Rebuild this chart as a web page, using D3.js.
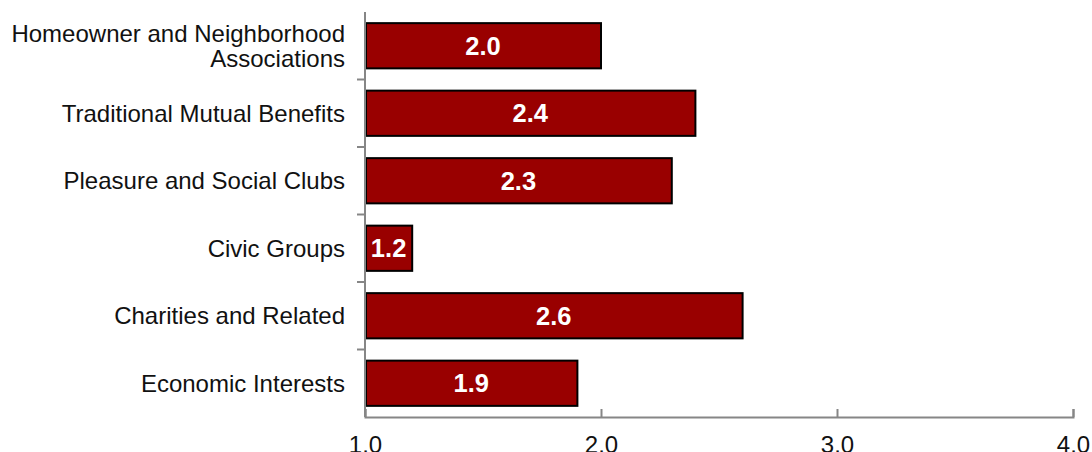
<!DOCTYPE html>
<html>
<head>
<meta charset="utf-8">
<script src="https://cdn.jsdelivr.net/npm/d3@7/dist/d3.min.js"></script>
<style>
  html, body { margin: 0; padding: 0; background: #fff; overflow: hidden; }
  svg { display: block; font-family: "Liberation Sans", Arial, sans-serif; }
</style>
</head>
<body>
<svg id="chart" width="1092" height="452"></svg>
<script>
// Categories (top to bottom); multi-line labels split on "\n"
const categories = [
  "Homeowner and Neighborhood\nAssociations",
  "Traditional Mutual Benefits",
  "Pleasure and Social Clubs",
  "Civic Groups",
  "Charities and Related",
  "Economic Interests"
];
const values = [2.0, 2.4, 2.3, 1.2, 2.6, 1.9];
const xTicks = [1.0, 2.0, 3.0, 4.0];

const svg = d3.select("#chart");
const axisColor = "#868686";

const x = d3.scaleLinear().domain([1, 4]).range([365, 1073]);
const y = d3.scaleBand().domain(categories).range([12, 417]).paddingInner(0.33).paddingOuter(0.165);

// Bars
svg.append("g").selectAll("rect")
  .data(values)
  .join("rect")
  .attr("x", x(1) + 1)
  .attr("y", (d, i) => y(categories[i]))
  .attr("width", d => x(d) - x(1) - 1)
  .attr("height", y.bandwidth())
  .attr("fill", "#990000")
  .attr("stroke", "#000")
  .attr("stroke-width", 2);

// Value labels inside bars
svg.append("g").selectAll("text")
  .data(values)
  .join("text")
  .attr("x", d => (x(1) + x(d)) / 2)
  .attr("y", (d, i) => y(categories[i]) + y.bandwidth() / 2)
  .attr("dy", "0.36em")
  .attr("text-anchor", "middle")
  .attr("fill", "#fff")
  .attr("font-weight", "bold")
  .attr("font-size", 25.5)
  .text(d => d.toFixed(1));

// Y axis line and band separators
const step = y.step();
const bandTop = 12;
svg.append("line")
  .attr("x1", x(1)).attr("x2", x(1))
  .attr("y1", bandTop).attr("y2", 417)
  .attr("stroke", axisColor).attr("stroke-width", 2);
svg.append("g").selectAll("line")
  .data(d3.range(1, categories.length))
  .join("line")
  .attr("x1", x(1) - 8).attr("x2", x(1))
  .attr("y1", i => bandTop + i * step)
  .attr("y2", i => bandTop + i * step)
  .attr("stroke", axisColor).attr("stroke-width", 2);

// Category labels
const labels = svg.append("g").selectAll("text")
  .data(categories)
  .join("text")
  .attr("text-anchor", "end")
  .attr("fill", "#111")
  .attr("font-size", 24);
labels.each(function(d) {
  const lines = d.split("\n");
  const cy = y(d) + y.bandwidth() / 2;
  const lh = 25;
  const t = d3.select(this);
  lines.forEach((ln, k) => {
    t.append("tspan")
      .attr("x", 345)
      .attr("y", cy + (k - (lines.length - 1) / 2) * lh)
      .attr("dy", "0.36em")
      .text(ln);
  });
});

// X axis
const xAxis = d3.axisBottom(x)
  .tickValues(xTicks)
  .tickSize(-8)
  .tickPadding(19)
  .tickFormat(d3.format(".1f"));
const gx = svg.append("g")
  .attr("transform", "translate(0,417)")
  .call(xAxis);
gx.select(".domain").attr("stroke", axisColor).attr("stroke-width", 2);
gx.selectAll(".tick line").attr("stroke", axisColor).attr("stroke-width", 2);
gx.selectAll(".tick text")
  .attr("fill", "#111")
  .attr("font-size", 24)
  .attr("font-family", "Liberation Sans, Arial, sans-serif");
</script>
</body>
</html>
